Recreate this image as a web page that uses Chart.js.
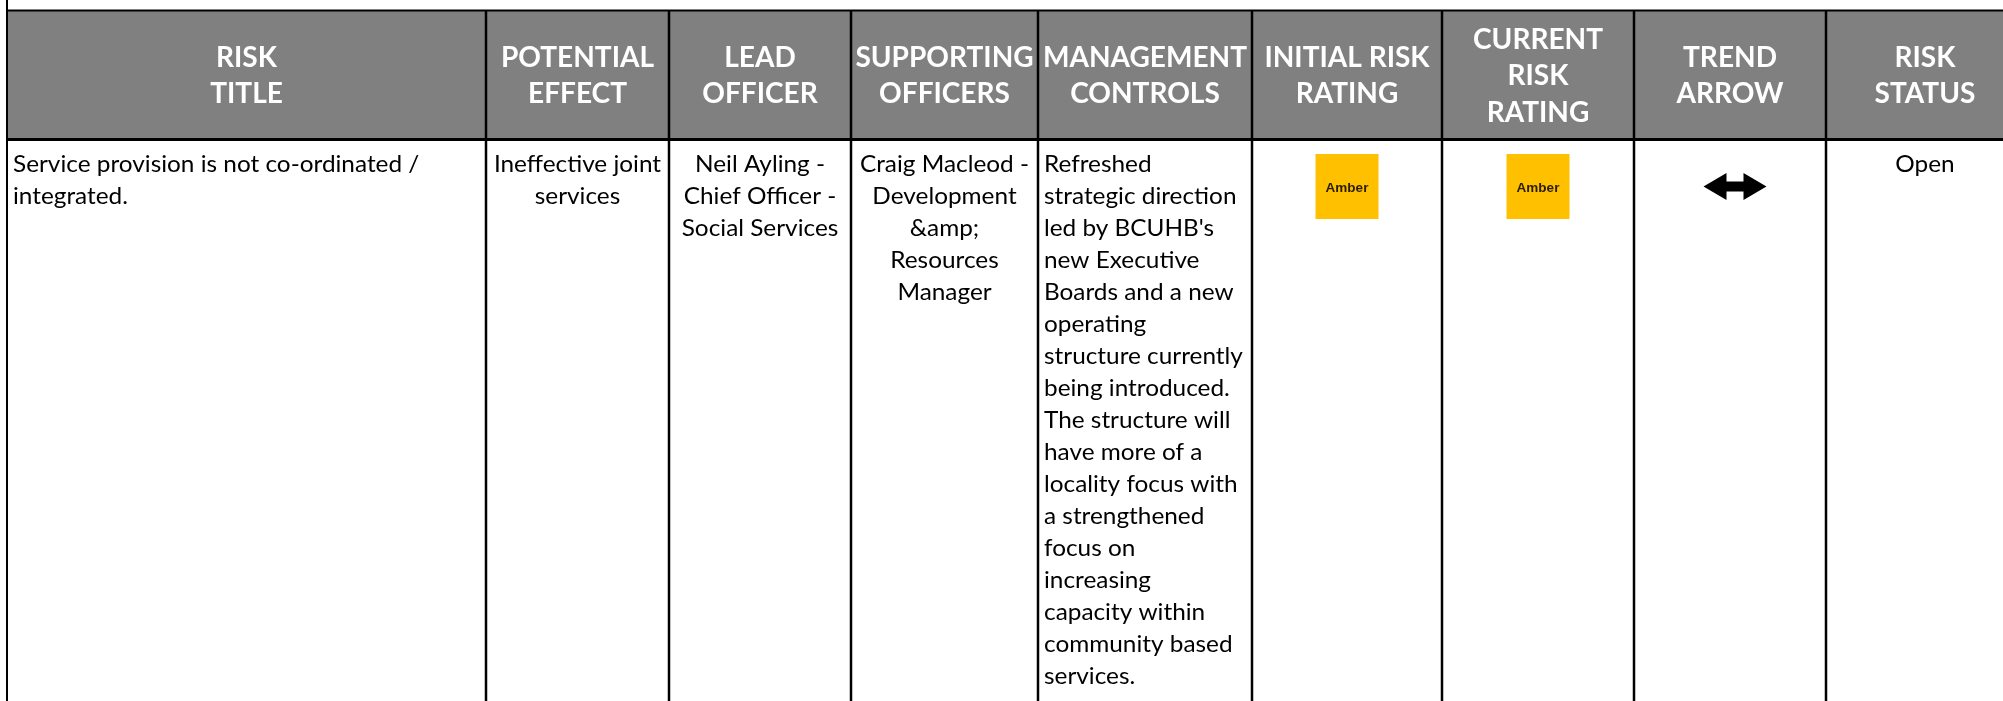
<!DOCTYPE html>
<html>
<head>
<meta charset="utf-8">
<script src="https://cdn.jsdelivr.net/npm/chart.js@4.4.1/dist/chart.umd.min.js"></script>
<style>
html,body{margin:0;padding:0;background:#fff;overflow:hidden;}
#wrap{position:relative;width:2003px;height:701px;}
canvas{display:block;}
</style>
</head>
<body>
<div id="wrap"><canvas id="c" width="2003" height="701"></canvas></div>
<script>
// ---------- DATA ----------
const headers = ['RISK\nTITLE', 'POTENTIAL\nEFFECT', 'LEAD\nOFFICER', 'SUPPORTING\nOFFICERS',
  'MANAGEMENT\nCONTROLS', 'INITIAL RISK\nRATING', 'CURRENT\nRISK\nRATING', 'TREND\nARROW', 'RISK\nSTATUS'];
const riskTitles = ['Service provision is not co-ordinated /\nintegrated.'];
const potentialEffects = ['Ineffective joint\nservices'];
const leadOfficers = ['Neil Ayling -\nChief Officer -\nSocial Services'];
const supportingOfficers = ['Craig Macleod -\nDevelopment\n&amp;\nResources\nManager'];
const managementControls = ['Refreshed\nstrategic direction\nled by BCUHB\'s\nnew Executive\nBoards and a new\noperating\nstructure currently\nbeing introduced.\nThe structure will\nhave more of a\nlocality focus with\na strengthened\nfocus on\nincreasing\ncapacity within\ncommunity based\nservices.'];
const initialRatings = ['Amber'];
const currentRatings = ['Amber'];
const trendArrows = ['both'];
const riskStatuses = ['Open'];

// ---------- LAYOUT (table geometry in scale units) ----------
const colEdges = [7, 486, 669, 851, 1038, 1252, 1442, 1634, 1826, 2024];
const colAlign = ['left', 'center', 'center', 'center', 'left', 'center', 'center', 'center', 'center'];
const tableTop = 10.5, headerBottom = 139.5, firstBaseline = 172, bodyLine = 32, headLine = 36.5;

const ratingColor = { Amber: '#FFC000', Red: '#FF0000', Green: '#00B050' };

function drawScaled(ctx, str, x, y, align, sx) {
  const w = ctx.measureText(str).width * sx;
  let left = x;
  if (align === 'center') left = x - w / 2;
  else if (align === 'right') left = x - w;
  ctx.save();
  ctx.translate(left, y);
  ctx.scale(sx, 1);
  ctx.textAlign = 'left';
  ctx.fillText(str, 0, 0);
  ctx.restore();
}

const tablePlugin = {
  id: 'riskTable',
  afterDraw(chart) {
    const ctx = chart.ctx;
    const X = v => chart.scales.x.getPixelForValue(v);
    const Y = v => chart.scales.y.getPixelForValue(v);
    const xs = colEdges.map(X);
    const right = X(2003);
    ctx.save();
    // header background
    ctx.fillStyle = '#808080';
    ctx.fillRect(xs[0], Y(tableTop), right - xs[0], Y(headerBottom) - Y(tableTop));

    // header text
    ctx.font = 'bold 28px Lato';
    const sxHead = 204 / ctx.measureText('MANAGEMENT').width;
    const capHead = 20;
    const headMid = (Y(tableTop) + Y(headerBottom)) / 2;
    ctx.fillStyle = '#ffffff';
    ctx.textBaseline = 'alphabetic';
    headers.forEach((h, i) => {
      const lines = h.split('\n');
      const cx = (xs[i] + xs[i + 1]) / 2;
      lines.forEach((ln, j) => {
        const by = headMid + capHead / 2 + (j - (lines.length - 1) / 2) * headLine;
        drawScaled(ctx, ln, cx, by, 'center', sxHead);
      });
    });

    // body text
    ctx.font = '23px Lato';
    const sxBody = 192.5 / ctx.measureText('strategic direction').width;
    ctx.fillStyle = '#000000';
    const textCols = [riskTitles, potentialEffects, leadOfficers, supportingOfficers, managementControls];
    textCols.forEach((arr, i) => {
      const lines = arr[0].split('\n');
      const al = colAlign[i];
      const x = al === 'left' ? xs[i] + 6 : (xs[i] + xs[i + 1]) / 2;
      lines.forEach((ln, j) => drawScaled(ctx, ln, x, Y(firstBaseline + j * bodyLine), al, sxBody));
    });
    // status
    const sLines = riskStatuses[0].split('\n');
    sLines.forEach((ln, j) => drawScaled(ctx, ln, (xs[8] + xs[9]) / 2, Y(firstBaseline + j * bodyLine), 'center', sxBody));

    // rating boxes
    const boxW = 63, boxH = 65, boxMid = Y(186.5);
    [[initialRatings, 5], [currentRatings, 6]].forEach(([arr, i]) => {
      const cx = (xs[i] + xs[i + 1]) / 2;
      ctx.fillStyle = ratingColor[arr[0]] || '#FFC000';
      ctx.fillRect(cx - boxW / 2, boxMid - boxH / 2, boxW, boxH);
      ctx.fillStyle = '#2a1e00';
      ctx.font = 'bold 13.5px "Liberation Sans"';
      ctx.textAlign = 'center';
      ctx.fillText(arr[0], cx, boxMid + 5);
    });

    // trend arrow
    if (trendArrows[0] === 'both') {
      const cx = (xs[7] + xs[8]) / 2 + 5, cy = Y(186.5);
      const half = 31.5, hl = 23, hh = 13.5, sh = 5;
      ctx.fillStyle = '#000';
      ctx.beginPath();
      ctx.moveTo(cx - half, cy);
      ctx.lineTo(cx - half + hl, cy - hh);
      ctx.lineTo(cx - half + hl, cy - sh);
      ctx.lineTo(cx + half - hl, cy - sh);
      ctx.lineTo(cx + half - hl, cy - hh);
      ctx.lineTo(cx + half, cy);
      ctx.lineTo(cx + half - hl, cy + hh);
      ctx.lineTo(cx + half - hl, cy + sh);
      ctx.lineTo(cx - half + hl, cy + sh);
      ctx.lineTo(cx - half + hl, cy + hh);
      ctx.closePath();
      ctx.fill();
    }

    // grid lines
    ctx.strokeStyle = '#000';
    ctx.lineWidth = 2;
    ctx.beginPath();
    ctx.moveTo(xs[0], Y(tableTop)); ctx.lineTo(right, Y(tableTop));
    ctx.moveTo(xs[0], Y(0)); ctx.lineTo(xs[0], Y(701));
    ctx.stroke();
    ctx.lineWidth = 3;
    ctx.beginPath();
    ctx.moveTo(xs[0], Y(headerBottom)); ctx.lineTo(right, Y(headerBottom));
    ctx.stroke();
    ctx.lineWidth = 2.5;
    ctx.beginPath();
    for (let i = 1; i < xs.length - 1; i++) {
      ctx.moveTo(xs[i], Y(tableTop)); ctx.lineTo(xs[i], Y(701));
    }
    ctx.stroke();
    ctx.restore();
  }
};

function build() {
  new Chart(document.getElementById('c'), {
    type: 'scatter',
    data: { datasets: [{ data: [] }] },
    options: {
      responsive: false,
      animation: false,
      layout: { padding: 0 },
      plugins: { legend: { display: false }, tooltip: { enabled: false } },
      scales: {
        x: { type: 'linear', min: 0, max: 2003, display: false },
        y: { type: 'linear', min: 0, max: 701, reverse: true, display: false }
      }
    },
    plugins: [tablePlugin]
  });
}
Promise.all([document.fonts.load('bold 28px Lato'), document.fonts.load('23px Lato'),
  document.fonts.load('bold 13.5px "Liberation Sans"')]).then(build, build);
</script>
</body>
</html>
